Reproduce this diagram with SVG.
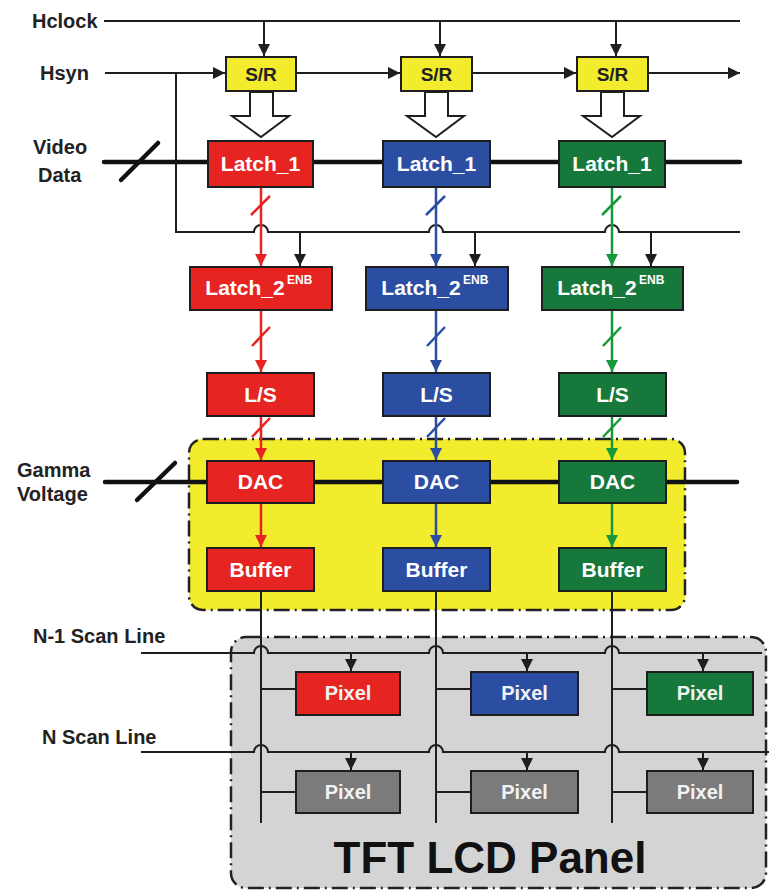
<svg xmlns="http://www.w3.org/2000/svg" width="769" height="891" viewBox="0 0 769 891">
<defs>
<style>
.lbl{font-family:"Liberation Sans",Arial,sans-serif;font-weight:bold;font-size:20px;fill:#222}
.bt{font-family:"Liberation Sans",Arial,sans-serif;font-weight:bold;font-size:21px;fill:#fff;text-anchor:middle}
.sr{font-family:"Liberation Sans",Arial,sans-serif;font-weight:bold;font-size:19px;fill:#222;text-anchor:middle}
.pt{font-family:"Liberation Sans",Arial,sans-serif;font-weight:bold;font-size:20px;fill:#f2f2f2;text-anchor:middle}
.sup{font-family:"Liberation Sans",Arial,sans-serif;font-weight:bold;font-size:12px;fill:#fff}
.box{stroke:#1e1e1e;stroke-width:2}
.red{fill:#e62421}.blue{fill:#2b4ea3}.green{fill:#17783b}.yel{fill:#f2ec2c}.gry{fill:#7b7b7b}
.ln{stroke:#1e1e1e;stroke-width:2;fill:none}
.thick{stroke:#111;stroke-width:4.5;fill:none;stroke-linecap:round}
.rl{stroke:#e62421;stroke-width:2.5;fill:none}
.bl{stroke:#2b4ea3;stroke-width:2.5;fill:none}
.gl{stroke:#17983b;stroke-width:2.5;fill:none}
.panel{stroke:#222;stroke-width:2.5;stroke-dasharray:16 5 2 5}
</style>
<marker id="ak" viewBox="0 0 10 10" refX="10" refY="5" markerWidth="6" markerHeight="6" orient="auto" markerUnits="strokeWidth"><path d="M0,0 L10,5 L0,10 z" fill="#1e1e1e"/></marker>
<marker id="ar" viewBox="0 0 10 10" refX="10" refY="5" markerWidth="5" markerHeight="5" orient="auto" markerUnits="strokeWidth"><path d="M0,0 L10,5 L0,10 z" fill="#e62421"/></marker>
<marker id="ab" viewBox="0 0 10 10" refX="10" refY="5" markerWidth="5" markerHeight="5" orient="auto" markerUnits="strokeWidth"><path d="M0,0 L10,5 L0,10 z" fill="#2b4ea3"/></marker>
<marker id="ag" viewBox="0 0 10 10" refX="10" refY="5" markerWidth="5" markerHeight="5" orient="auto" markerUnits="strokeWidth"><path d="M0,0 L10,5 L0,10 z" fill="#17983b"/></marker>
</defs>
<rect width="769" height="891" fill="#fff"/>

<g id="dac-buffer-panel"><rect class="panel" x="189" y="439" width="496" height="171" rx="14" fill="#f2ec2c"/></g>
<g id="tft-lcd-panel"><rect class="panel" x="231" y="637" width="535" height="251" rx="15" fill="#d4d4d4"/>
<text x="490" y="873" style="font-family:'Liberation Sans',Arial,sans-serif;font-weight:bold;font-size:44px;fill:#111;text-anchor:middle">TFT LCD Panel</text></g>

<g id="labels">
<text class="lbl" x="32" y="28">Hclock</text>
<text class="lbl" x="40" y="80">Hsyn</text>
<text class="lbl" x="33" y="154">Video</text>
<text class="lbl" x="38" y="182">Data</text>
<text class="lbl" x="17" y="477">Gamma</text>
<text class="lbl" x="17" y="501">Voltage</text>
<text class="lbl" x="33" y="643">N-1 Scan Line</text>
<text class="lbl" x="42" y="744">N Scan Line</text>
</g>

<g id="connectors">
<!-- Hclock -->
<line class="ln" x1="104" y1="21" x2="740" y2="21"/>
<line class="ln" x1="264" y1="21" x2="264" y2="56" marker-end="url(#ak)"/>
<line class="ln" x1="440" y1="21" x2="440" y2="56" marker-end="url(#ak)"/>
<line class="ln" x1="616" y1="21" x2="616" y2="56" marker-end="url(#ak)"/>
<!-- Hsyn chain -->
<line class="ln" x1="105" y1="73" x2="225" y2="73" marker-end="url(#ak)"/>
<line class="ln" x1="296" y1="73" x2="400" y2="73" marker-end="url(#ak)"/>
<line class="ln" x1="472" y1="73" x2="576" y2="73" marker-end="url(#ak)"/>
<line class="ln" x1="648" y1="73" x2="740" y2="73" marker-end="url(#ak)"/>
<!-- Hsyn branch to enable line -->
<path class="ln" d="M176,73 V232 H254 a7,7 0 0 1 14,0 H429 a7,7 0 0 1 14,0 H605 a7,7 0 0 1 14,0 H740"/>
<line class="ln" x1="300" y1="232" x2="300" y2="266" marker-end="url(#ak)"/>
<line class="ln" x1="475" y1="232" x2="475" y2="266" marker-end="url(#ak)"/>
<line class="ln" x1="651" y1="232" x2="651" y2="266" marker-end="url(#ak)"/>
<!-- Video data bus -->
<line class="thick" x1="104" y1="162" x2="740" y2="162"/>
<line class="thick" x1="121" y1="180" x2="158" y2="143"/>
<!-- Gamma bus -->
<line class="thick" x1="105" y1="482" x2="737" y2="482"/>
<line class="thick" x1="137" y1="500" x2="175" y2="463"/>
<!-- hollow arrows S/R -> Latch_1 -->
<polygon class="ln" fill="#fff" points="250,92 250,116 232,116 261,137 289,116 273,116 273,92"/>
<polygon class="ln" fill="#fff" points="425,92 425,116 407,116 436,137 464,116 448,116 448,92"/>
<polygon class="ln" fill="#fff" points="601,92 601,116 583,116 612,137 640,116 624,116 624,92"/>
<!-- red column -->
<line class="rl" x1="261" y1="187" x2="261" y2="266" marker-end="url(#ar)"/>
<line class="rl" x1="251" y1="215" x2="270" y2="196"/>
<line class="rl" x1="261" y1="310" x2="261" y2="372" marker-end="url(#ar)"/>
<line class="rl" x1="252" y1="346" x2="270" y2="327"/>
<line class="rl" x1="261" y1="416" x2="261" y2="460" marker-end="url(#ar)"/>
<line class="rl" x1="252" y1="437" x2="270" y2="418"/>
<line class="rl" x1="261" y1="503" x2="261" y2="547" marker-end="url(#ar)"/>
<!-- blue column -->
<line class="bl" x1="436" y1="187" x2="436" y2="266" marker-end="url(#ab)"/>
<line class="bl" x1="426" y1="215" x2="445" y2="196"/>
<line class="bl" x1="436" y1="310" x2="436" y2="372" marker-end="url(#ab)"/>
<line class="bl" x1="427" y1="346" x2="445" y2="327"/>
<line class="bl" x1="436" y1="416" x2="436" y2="460" marker-end="url(#ab)"/>
<line class="bl" x1="427" y1="437" x2="445" y2="418"/>
<line class="bl" x1="436" y1="503" x2="436" y2="547" marker-end="url(#ab)"/>
<!-- green column -->
<line class="gl" x1="612" y1="187" x2="612" y2="266" marker-end="url(#ag)"/>
<line class="gl" x1="602" y1="215" x2="621" y2="196"/>
<line class="gl" x1="612" y1="310" x2="612" y2="372" marker-end="url(#ag)"/>
<line class="gl" x1="603" y1="346" x2="621" y2="327"/>
<line class="gl" x1="612" y1="416" x2="612" y2="460" marker-end="url(#ag)"/>
<line class="gl" x1="603" y1="437" x2="621" y2="418"/>
<line class="gl" x1="612" y1="503" x2="612" y2="547" marker-end="url(#ag)"/>
<!-- data lines to panel -->
<line class="ln" x1="261" y1="591" x2="261" y2="823"/>
<line class="ln" x1="436" y1="591" x2="436" y2="823"/>
<line class="ln" x1="612" y1="591" x2="612" y2="823"/>
<!-- scan lines -->
<path class="ln" d="M141,653 H254 a7,7 0 0 1 14,0 H429 a7,7 0 0 1 14,0 H605 a7,7 0 0 1 14,0 H762"/>
<path class="ln" d="M141,752 H254 a7,7 0 0 1 14,0 H429 a7,7 0 0 1 14,0 H605 a7,7 0 0 1 14,0 H769"/>
<line class="ln" x1="351" y1="653" x2="351" y2="671" marker-end="url(#ak)"/>
<line class="ln" x1="527" y1="653" x2="527" y2="671" marker-end="url(#ak)"/>
<line class="ln" x1="703" y1="653" x2="703" y2="671" marker-end="url(#ak)"/>
<line class="ln" x1="351" y1="752" x2="351" y2="770" marker-end="url(#ak)"/>
<line class="ln" x1="527" y1="752" x2="527" y2="770" marker-end="url(#ak)"/>
<line class="ln" x1="703" y1="752" x2="703" y2="770" marker-end="url(#ak)"/>
<line class="ln" x1="261" y1="689" x2="296" y2="689"/>
<line class="ln" x1="436" y1="689" x2="471" y2="689"/>
<line class="ln" x1="612" y1="689" x2="647" y2="689"/>
<line class="ln" x1="261" y1="792" x2="296" y2="792"/>
<line class="ln" x1="436" y1="792" x2="471" y2="792"/>
<line class="ln" x1="612" y1="792" x2="647" y2="792"/>
</g>

<g id="sr1"><rect class="box yel" x="226" y="57" width="70" height="34"/><text class="sr" x="261" y="81">S/R</text></g>
<g id="sr2"><rect class="box yel" x="401" y="57" width="71" height="34"/><text class="sr" x="436.5" y="81">S/R</text></g>
<g id="sr3"><rect class="box yel" x="577" y="57" width="71" height="34"/><text class="sr" x="612.5" y="81">S/R</text></g>

<g id="latch1-r"><rect class="box red" x="208" y="141" width="105" height="46"/><text class="bt" x="260.5" y="171">Latch_1</text></g>
<g id="latch1-b"><rect class="box blue" x="383" y="141" width="107" height="46"/><text class="bt" x="436.5" y="171">Latch_1</text></g>
<g id="latch1-g"><rect class="box green" x="559" y="141" width="106" height="46"/><text class="bt" x="612" y="171">Latch_1</text></g>

<g id="latch2-r"><rect class="box red" x="190" y="267" width="142" height="43"/><text class="bt" x="245" y="295">Latch_2</text><text class="sup" x="287" y="284">ENB</text></g>
<g id="latch2-b"><rect class="box blue" x="366" y="267" width="142" height="43"/><text class="bt" x="421" y="295">Latch_2</text><text class="sup" x="463" y="284">ENB</text></g>
<g id="latch2-g"><rect class="box green" x="542" y="267" width="141" height="43"/><text class="bt" x="597" y="295">Latch_2</text><text class="sup" x="639" y="284">ENB</text></g>

<g id="ls-r"><rect class="box red" x="207" y="373" width="107" height="43"/><text class="bt" x="260.5" y="402">L/S</text></g>
<g id="ls-b"><rect class="box blue" x="383" y="373" width="107" height="43"/><text class="bt" x="436.5" y="402">L/S</text></g>
<g id="ls-g"><rect class="box green" x="559" y="373" width="107" height="43"/><text class="bt" x="612.5" y="402">L/S</text></g>

<g id="dac-r"><rect class="box red" x="207" y="461" width="107" height="42"/><text class="bt" x="260.5" y="489">DAC</text></g>
<g id="dac-b"><rect class="box blue" x="383" y="461" width="107" height="42"/><text class="bt" x="436.5" y="489">DAC</text></g>
<g id="dac-g"><rect class="box green" x="559" y="461" width="107" height="42"/><text class="bt" x="612.5" y="489">DAC</text></g>

<g id="buf-r"><rect class="box red" x="207" y="548" width="107" height="43"/><text class="bt" x="260.5" y="577">Buffer</text></g>
<g id="buf-b"><rect class="box blue" x="383" y="548" width="107" height="43"/><text class="bt" x="436.5" y="577">Buffer</text></g>
<g id="buf-g"><rect class="box green" x="559" y="548" width="107" height="43"/><text class="bt" x="612.5" y="577">Buffer</text></g>

<g id="pix1-r"><rect class="box red" x="296" y="672" width="104" height="43"/><text class="pt" x="348" y="700">Pixel</text></g>
<g id="pix1-b"><rect class="box blue" x="471" y="672" width="107" height="43"/><text class="pt" x="524.5" y="700">Pixel</text></g>
<g id="pix1-g"><rect class="box green" x="647" y="672" width="106" height="43"/><text class="pt" x="700" y="700">Pixel</text></g>
<g id="pix2-1"><rect class="box gry" x="296" y="771" width="104" height="42"/><text class="pt" x="348" y="799">Pixel</text></g>
<g id="pix2-2"><rect class="box gry" x="471" y="771" width="107" height="42"/><text class="pt" x="524.5" y="799">Pixel</text></g>
<g id="pix2-3"><rect class="box gry" x="647" y="771" width="106" height="42"/><text class="pt" x="700" y="799">Pixel</text></g>
</svg>
